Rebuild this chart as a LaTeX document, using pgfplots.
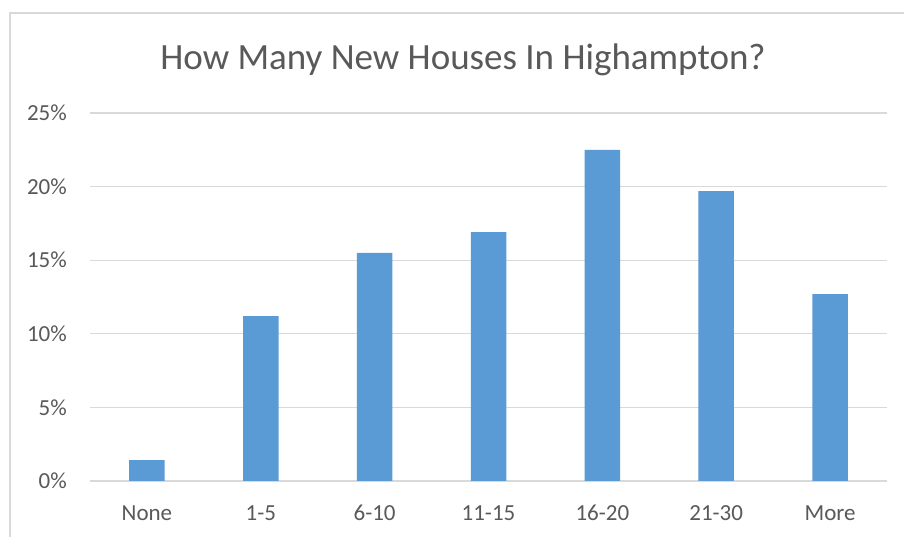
\documentclass[border=0pt]{standalone}
\usepackage{pgfplots}
\pgfplotsset{compat=1.18}
\usepackage{fontspec}
\setmainfont{Carlito}
\definecolor{barblue}{HTML}{5B9BD5}
\definecolor{gridgray}{HTML}{D9D9D9}
\definecolor{txtgray}{HTML}{595959}
\begin{document}
\begin{tikzpicture}[x=1pt,y=1pt]
\useasboundingbox (0,0) rectangle (904,537);
\clip (0,0) rectangle (904,537);
\fill[white] (0,0) rectangle (904,537);
\draw[gridgray, line width=1.3pt] (10,524) rectangle (920,-20);
\node[anchor=base, text=txtgray, inner sep=0pt, font=\fontsize{37}{37}\selectfont] at (463,467) {How Many New Houses In Highampton?};
\begin{axis}[
  at={(90pt,56pt)}, anchor=south west,
  scale only axis, width=797pt, height=368pt,
  xmin=-0.5, xmax=6.5, ymin=0, ymax=25,
  axis line style={draw=none},
  ymajorgrids, grid style={gridgray, line width=1.2pt},
  major tick length=0pt,
  xtick={0,1,2,3,4,5,6},
  xticklabels={None,1-5,6-10,11-15,16-20,21-30,More},
  ytick={0,5,10,15,20,25},
  yticklabels={0\%,5\%,10\%,15\%,20\%,25\%},
  tick style={draw=none},
  yticklabel style={anchor=east, inner sep=0pt, xshift=-23pt, text=txtgray, font=\fontsize{23}{23}\selectfont},
  xticklabel style={anchor=base, inner sep=0pt, yshift=-39.5pt, text=txtgray, font=\fontsize{23}{23}\selectfont},
  clip=false,
]
\addplot[ybar, bar width=35.5pt, fill=barblue, draw=none] coordinates {(0,1.41) (1,11.2) (2,15.5) (3,16.9) (4,22.5) (5,19.7) (6,12.7)};
\end{axis}
\end{tikzpicture}
\end{document}
